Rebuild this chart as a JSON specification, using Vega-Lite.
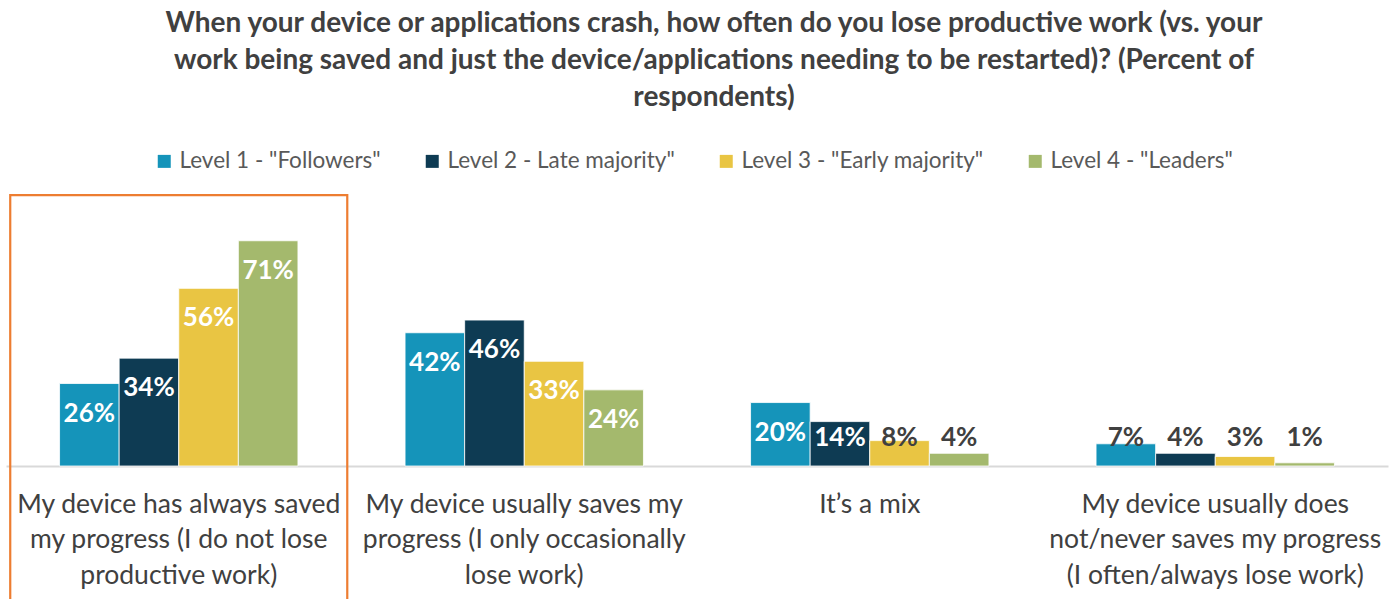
{
  "$schema": "https://vega.github.io/schema/vega-lite/v6.json",
  "width": 1382,
  "height": 276,
  "autosize": {"type": "none"},
  "padding": {"left": 6, "top": 190, "right": 8, "bottom": 133},
  "background": "white",
  "title": {
    "text": [
      "When your device or applications crash, how often do you lose productive work (vs. your",
      "work being saved and just the device/applications needing to be restarted)? (Percent of",
      "respondents)"
    ],
    "font": "Lato",
    "fontSize": 28,
    "fontWeight": "bold",
    "color": "#404040",
    "lineHeight": 37,
    "anchor": "middle",
    "frame": "group",
    "dx": 17,
    "offset": 38
  },
  "config": {
    "view": {"stroke": null},
    "font": "Lato"
  },
  "data": {
    "values": [
      {"cat": "My device has always saved|my progress (I do not lose|productive work)", "series": "Level 1 - \"Followers\"", "value": 26},
      {"cat": "My device has always saved|my progress (I do not lose|productive work)", "series": "Level 2 - Late majority\"", "value": 34},
      {"cat": "My device has always saved|my progress (I do not lose|productive work)", "series": "Level 3 - \"Early majority\"", "value": 56},
      {"cat": "My device has always saved|my progress (I do not lose|productive work)", "series": "Level 4 - \"Leaders\"", "value": 71},
      {"cat": "My device usually saves my|progress (I only occasionally|lose work)", "series": "Level 1 - \"Followers\"", "value": 42},
      {"cat": "My device usually saves my|progress (I only occasionally|lose work)", "series": "Level 2 - Late majority\"", "value": 46},
      {"cat": "My device usually saves my|progress (I only occasionally|lose work)", "series": "Level 3 - \"Early majority\"", "value": 33},
      {"cat": "My device usually saves my|progress (I only occasionally|lose work)", "series": "Level 4 - \"Leaders\"", "value": 24},
      {"cat": "It’s a mix", "series": "Level 1 - \"Followers\"", "value": 20},
      {"cat": "It’s a mix", "series": "Level 2 - Late majority\"", "value": 14},
      {"cat": "It’s a mix", "series": "Level 3 - \"Early majority\"", "value": 8},
      {"cat": "It’s a mix", "series": "Level 4 - \"Leaders\"", "value": 4},
      {"cat": "My device usually does|not/never saves my progress|(I often/always lose work)", "series": "Level 1 - \"Followers\"", "value": 7},
      {"cat": "My device usually does|not/never saves my progress|(I often/always lose work)", "series": "Level 2 - Late majority\"", "value": 4},
      {"cat": "My device usually does|not/never saves my progress|(I often/always lose work)", "series": "Level 3 - \"Early majority\"", "value": 3},
      {"cat": "My device usually does|not/never saves my progress|(I often/always lose work)", "series": "Level 4 - \"Leaders\"", "value": 1}
    ]
  },
  "layer": [
    {
      "encoding": {
        "x": {
          "field": "cat",
          "type": "nominal",
          "sort": null,
          "scale": {"paddingInner": 0.31, "paddingOuter": 0.155},
          "axis": {
            "title": null,
            "labelExpr": "split(datum.label, '|')",
            "labelAngle": 0,
            "labelFont": "Lato",
            "labelFontSize": 26.5,
            "labelColor": "#404040",
            "labelLineHeight": 35.5,
            "labelPadding": 25,
            "labelLimit": 0,
            "ticks": false,
            "domain": true,
            "domainColor": "#D9D9D9",
            "domainWidth": 2,
            "grid": false
          }
        },
        "xOffset": {
          "field": "series",
          "type": "nominal",
          "sort": null,
          "scale": {"paddingInner": 0, "paddingOuter": 0}
        }
      },
      "layer": [
        {
          "mark": {"type": "bar", "stroke": "white", "strokeWidth": 0.8},
          "encoding": {
            "y": {
              "field": "value",
              "type": "quantitative",
              "scale": {"domain": [0, 87], "nice": false, "zero": true},
              "axis": null
            },
            "color": {
              "field": "series",
              "type": "nominal",
              "sort": null,
              "scale": {"range": ["#1594BA", "#0E3B53", "#E9C543", "#A4B96D"]},
              "legend": {
                "title": null,
                "orient": "none",
                "direction": "horizontal",
                "columns": 4,
                "legendX": 147,
                "legendY": -40,
                "padding": 0,
                "symbolType": "square",
                "symbolSize": 169,
                "symbolStrokeWidth": 0,
                "symbolOffset": 0,
                "labelFont": "Lato",
                "labelFontSize": 22.5,
                "labelColor": "#595959",
                "labelOffset": 4,
                "labelLimit": 0,
                "columnPadding": 40
              }
            }
          }
        },
        {
          "transform": [
            {"calculate": "max(datum.value, 18.3)", "as": "labelY"},
            {"calculate": "datum.value + '%'", "as": "label"}
          ],
          "mark": {"type": "text", "font": "Lato", "fontSize": 26, "fontWeight": "bold", "baseline": "middle", "align": "center", "dy": 30},
          "encoding": {
            "y": {"field": "labelY", "type": "quantitative"},
            "text": {"field": "label", "type": "nominal"},
            "color": {
              "condition": {"test": "datum.value >= 10", "value": "white"},
              "value": "#404040"
            }
          }
        }
      ]
    },
    {
      "data": {"values": [{"cat": "My device has always saved|my progress (I do not lose|productive work)"}]},
      "mark": {"type": "rect", "filled": false, "stroke": "#ED7D31", "strokeWidth": 2.2},
      "encoding": {
        "x": {
          "field": "cat",
          "type": "nominal",
          "scale": {
            "domain": [
              "My device has always saved|my progress (I do not lose|productive work)",
              "My device usually saves my|progress (I only occasionally|lose work)",
              "It’s a mix",
              "My device usually does|not/never saves my progress|(I often/always lose work)"
            ],
            "paddingInner": 0.0245,
            "paddingOuter": 0.01225
          },
          "axis": null
        },
        "y": {"datum": 85.4, "type": "quantitative"},
        "y2": {"datum": -60}
      }
    }
  ],
  "resolve": {"scale": {"x": "independent"}, "axis": {"x": "independent"}}
}
